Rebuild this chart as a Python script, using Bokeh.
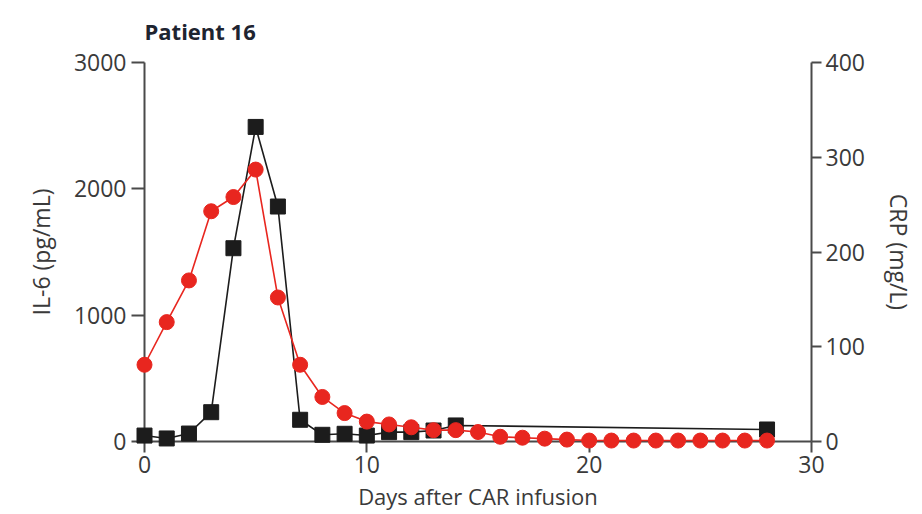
from bokeh.plotting import figure
from bokeh.models import Range1d, LinearAxis, FixedTicker
from bokeh.embed import file_html
from bokeh.resources import INLINE

# ---- data ----
days_il6 = [0, 1, 2, 3, 4, 5, 6, 7, 8, 9, 10, 11, 12, 13, 14, 28]
il6 = [47, 24, 63, 232, 1530, 2490, 1860, 172, 53, 61, 47, 74, 74, 87, 127, 95]

days_crp = list(range(0, 29))
crp = [81, 126, 170, 243, 258, 287, 152, 81, 47, 30, 21, 18, 15, 12, 12, 10,
       5, 4, 3, 2, 1, 1, 1, 1, 1, 1, 1, 1, 1]

x_ticks = [0, 10, 20, 30]
il6_ticks = [0, 1000, 2000, 3000]
crp_ticks = [0, 100, 200, 300, 400]

title = "Patient 16"
x_label = "Days after CAR infusion"
y_label = "IL-6 (pg/mL)"
y2_label = "CRP (mg/L)"

FONT = "Open Sans"
AXIS_COLOR = "#4a4a4a"
TEXT_COLOR = "#3a3a3a"
RED = "#e8261f"
BLACK = "#1c1c1c"

p = figure(frame_width=667, frame_height=379,
           min_border_left=144, min_border_right=111,
           min_border_top=62, min_border_bottom=73,
           x_range=Range1d(0, 30), y_range=Range1d(0, 3000),
           output_backend="svg", toolbar_location=None,
           background_fill_color="white", border_fill_color="white")
p.outline_line_color = None
p.grid.visible = False

p.extra_y_ranges = {"crp": Range1d(0, 400)}
right = LinearAxis(y_range_name="crp")
p.add_layout(right, "right")

p.title.text = title
p.title.text_font = FONT
p.title.text_font_size = "22px"
p.title.text_font_style = "bold"
p.title.text_color = "#1e2430"
p.title.align = "left"
p.title.vertical_align = "top"
p.title.standoff = 29

for ax in [p.xaxis[0], p.yaxis[0], right]:
    ax.axis_line_color = AXIS_COLOR
    ax.axis_line_width = 2
    ax.major_tick_line_color = AXIS_COLOR
    ax.major_tick_line_width = 2
    ax.minor_tick_line_color = None
    ax.major_tick_in = 0
    ax.major_label_text_font = FONT
    ax.major_label_text_font_size = "23px"
    ax.major_label_text_color = TEXT_COLOR
    ax.axis_label_text_font = FONT
    ax.axis_label_text_font_size = "23px"
    ax.axis_label_text_font_style = "normal"
    ax.axis_label_text_color = TEXT_COLOR

p.xaxis[0].axis_label_text_font_size = "22px"

p.xaxis[0].ticker = FixedTicker(ticks=x_ticks)
p.yaxis[0].ticker = FixedTicker(ticks=il6_ticks)
right.ticker = FixedTicker(ticks=crp_ticks)

p.xaxis[0].major_tick_out = 11
p.yaxis[0].major_tick_out = 13
right.major_tick_out = 10
p.xaxis[0].major_label_standoff = 3
p.yaxis[0].major_label_standoff = 5
right.major_label_standoff = 4

p.xaxis[0].axis_label = x_label
p.yaxis[0].axis_label = y_label
right.axis_label = y2_label
p.xaxis[0].axis_label_standoff = 5
p.yaxis[0].axis_label_standoff = 14
right.axis_label_standoff = 15

# IL-6 (black squares)
l1 = p.line(days_il6, il6, line_color=BLACK, line_width=1.6)
m1 = p.scatter(days_il6, il6, marker="square", size=15,
               fill_color=BLACK, line_color=BLACK)
# CRP (red circles) on right axis
l2 = p.line(days_crp, crp, line_color=RED, line_width=1.6, y_range_name="crp")
m2 = p.scatter(days_crp, crp, marker="circle", size=15,
               fill_color=RED, line_color=RED, y_range_name="crp")
for r in [l1, m1, l2, m2]:
    r.level = "overlay"

open("out.html", "w").write(file_html(p, INLINE))
